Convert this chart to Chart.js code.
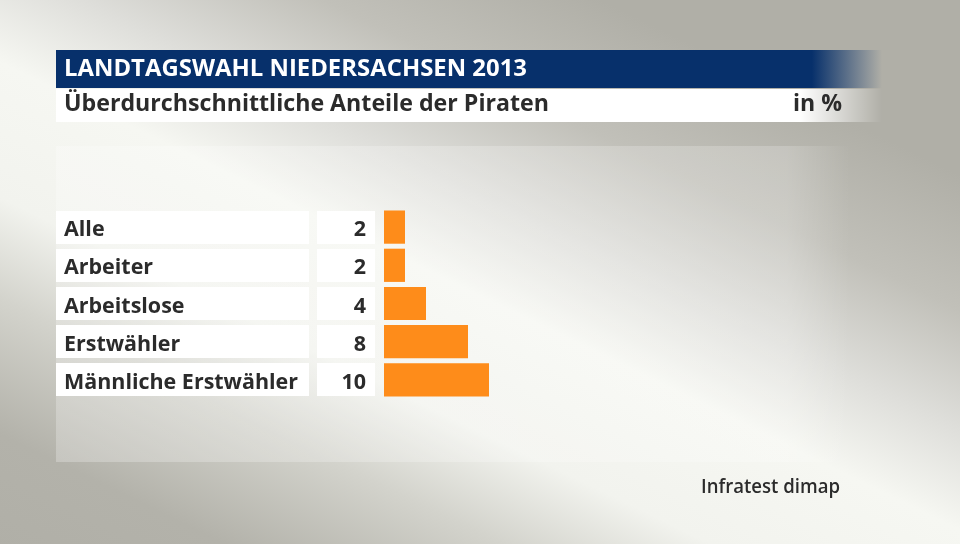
<!DOCTYPE html>
<html>
<head>
<meta charset="utf-8">
<script src="https://cdn.jsdelivr.net/npm/chart.js@4"></script>
<style>
html,body{margin:0;padding:0;background:#b0afa7;}
#wrap{width:960px;height:544px;position:relative;}
</style>
</head>
<body>
<div id="wrap"><canvas id="c" width="960" height="544"></canvas></div>
<script>
const categories = ["Alle", "Arbeiter", "Arbeitslose", "Erstwähler", "Männliche Erstwähler"];
const values = [2, 2, 4, 8, 10];
const valueLabels = ["2", "2", "4", "8", "10"];
const titleText = "LANDTAGSWAHL NIEDERSACHSEN 2013";
const subtitleText = "Überdurchschnittliche Anteile der Piraten";
const unitText = "in %";
const sourceText = "Infratest dimap";

const FONT = '"Open Sans", "Noto Sans", sans-serif';

function fitText(ctx, text, x, y, font, targetW, align) {
  ctx.save();
  ctx.font = font;
  const w = ctx.measureText(text).width;
  const s = targetW ? Math.max(0.9, Math.min(1.05, targetW / w)) : 1;
  const drawW = w * s;
  let left = align === 'right' ? x - drawW : x;
  ctx.translate(left, y);
  ctx.scale(s, 1);
  ctx.textAlign = 'left';
  ctx.fillText(text, 0, 0);
  ctx.restore();
}

const decor = {
  id: 'decor',
  beforeDraw(chart) {
    const ctx = chart.ctx;
    const W = chart.width, H = chart.height;
    ctx.save();
    // background: diagonal light band from upper left to lower right
    const cx = 425, cy = 337, px = 0.438, py = -0.899, d = 380;
    let g = ctx.createLinearGradient(cx - px * d, cy - py * d, cx + px * d, cy + py * d);
    g.addColorStop(0, '#b0afa7');
    g.addColorStop(0.14, '#b3b2aa');
    g.addColorStop(0.3, '#d3d3cc');
    g.addColorStop(0.42, '#f2f3ee');
    g.addColorStop(0.58, '#f6f7f2');
    g.addColorStop(0.7, '#dededa');
    g.addColorStop(0.84, '#c1c0b9');
    g.addColorStop(1, '#b0afa7');
    ctx.fillStyle = g;
    ctx.fillRect(0, 0, W, H);
    // light panel
    g = ctx.createLinearGradient(56, 0, 850, 0);
    g.addColorStop(0, 'rgba(255,255,255,0.25)');
    g.addColorStop(0.92, 'rgba(255,255,255,0.2)');
    g.addColorStop(1, 'rgba(255,255,255,0)');
    ctx.fillStyle = g;
    ctx.fillRect(56, 146, 794, 316);
    // title bar
    g = ctx.createLinearGradient(56, 0, 882, 0);
    g.addColorStop(0, '#07306b');
    g.addColorStop(0.915, '#07306b');
    g.addColorStop(1, 'rgba(7,48,107,0)');
    ctx.fillStyle = g;
    ctx.fillRect(56, 50, 826, 38);
    // subtitle bar
    g = ctx.createLinearGradient(56, 0, 882, 0);
    g.addColorStop(0, '#ffffff');
    g.addColorStop(0.9, '#ffffff');
    g.addColorStop(1, 'rgba(255,255,255,0)');
    ctx.fillStyle = g;
    ctx.fillRect(56, 89, 826, 33);
    // texts
    ctx.textBaseline = 'alphabetic';
    ctx.fillStyle = '#ffffff';
    fitText(ctx, titleText, 64, 76, 'bold 24px ' + FONT, 463);
    ctx.fillStyle = '#2b2b2b';
    fitText(ctx, subtitleText, 64, 111, 'bold 23px ' + FONT, 485);
    fitText(ctx, unitText, 842, 111, 'bold 23px ' + FONT, 49, 'right');
    fitText(ctx, sourceText, 840, 493, '600 19px ' + FONT, 139, 'right');
    ctx.restore();
  },
  beforeDatasetsDraw(chart) {
    const ctx = chart.ctx;
    const ys = chart.scales.y;
    ctx.save();
    const labelFont = 'bold 22px ' + FONT;
    ctx.font = labelFont;
    const scale = Math.min(1, 234 / ctx.measureText(categories[4]).width);
    categories.forEach((cat, i) => {
      const c = ys.getPixelForValue(i);
      const top = Math.round(c - 16.5);
      ctx.fillStyle = '#ffffff';
      ctx.fillRect(56, top, 253, 33);
      ctx.fillRect(317, top, 58, 33);
      ctx.fillStyle = '#2b2b2b';
      ctx.save();
      ctx.font = labelFont;
      ctx.translate(64, c + 9);
      ctx.scale(scale, 1);
      ctx.fillText(cat, 0, 0);
      ctx.restore();
      ctx.save();
      ctx.font = labelFont;
      const w = ctx.measureText(valueLabels[i]).width * scale;
      ctx.translate(366 - w, c + 9);
      ctx.scale(scale, 1);
      ctx.fillText(valueLabels[i], 0, 0);
      ctx.restore();
    });
    ctx.restore();
  }
};

new Chart(document.getElementById('c'), {
  type: 'bar',
  data: {
    labels: categories,
    datasets: [{
      data: values,
      backgroundColor: '#fe8c1a',
      borderWidth: 0,
      barPercentage: 0.87,
      categoryPercentage: 1
    }]
  },
  options: {
    indexAxis: 'y',
    responsive: false,
    animation: false,
    events: [],
    layout: { padding: { left: 384, right: 156, top: 208, bottom: 145 } },
    scales: {
      x: { display: false, min: 0, max: 40 },
      y: { display: false }
    },
    plugins: { legend: { display: false }, tooltip: { enabled: false } }
  },
  plugins: [decor]
});
</script>
</body>
</html>
